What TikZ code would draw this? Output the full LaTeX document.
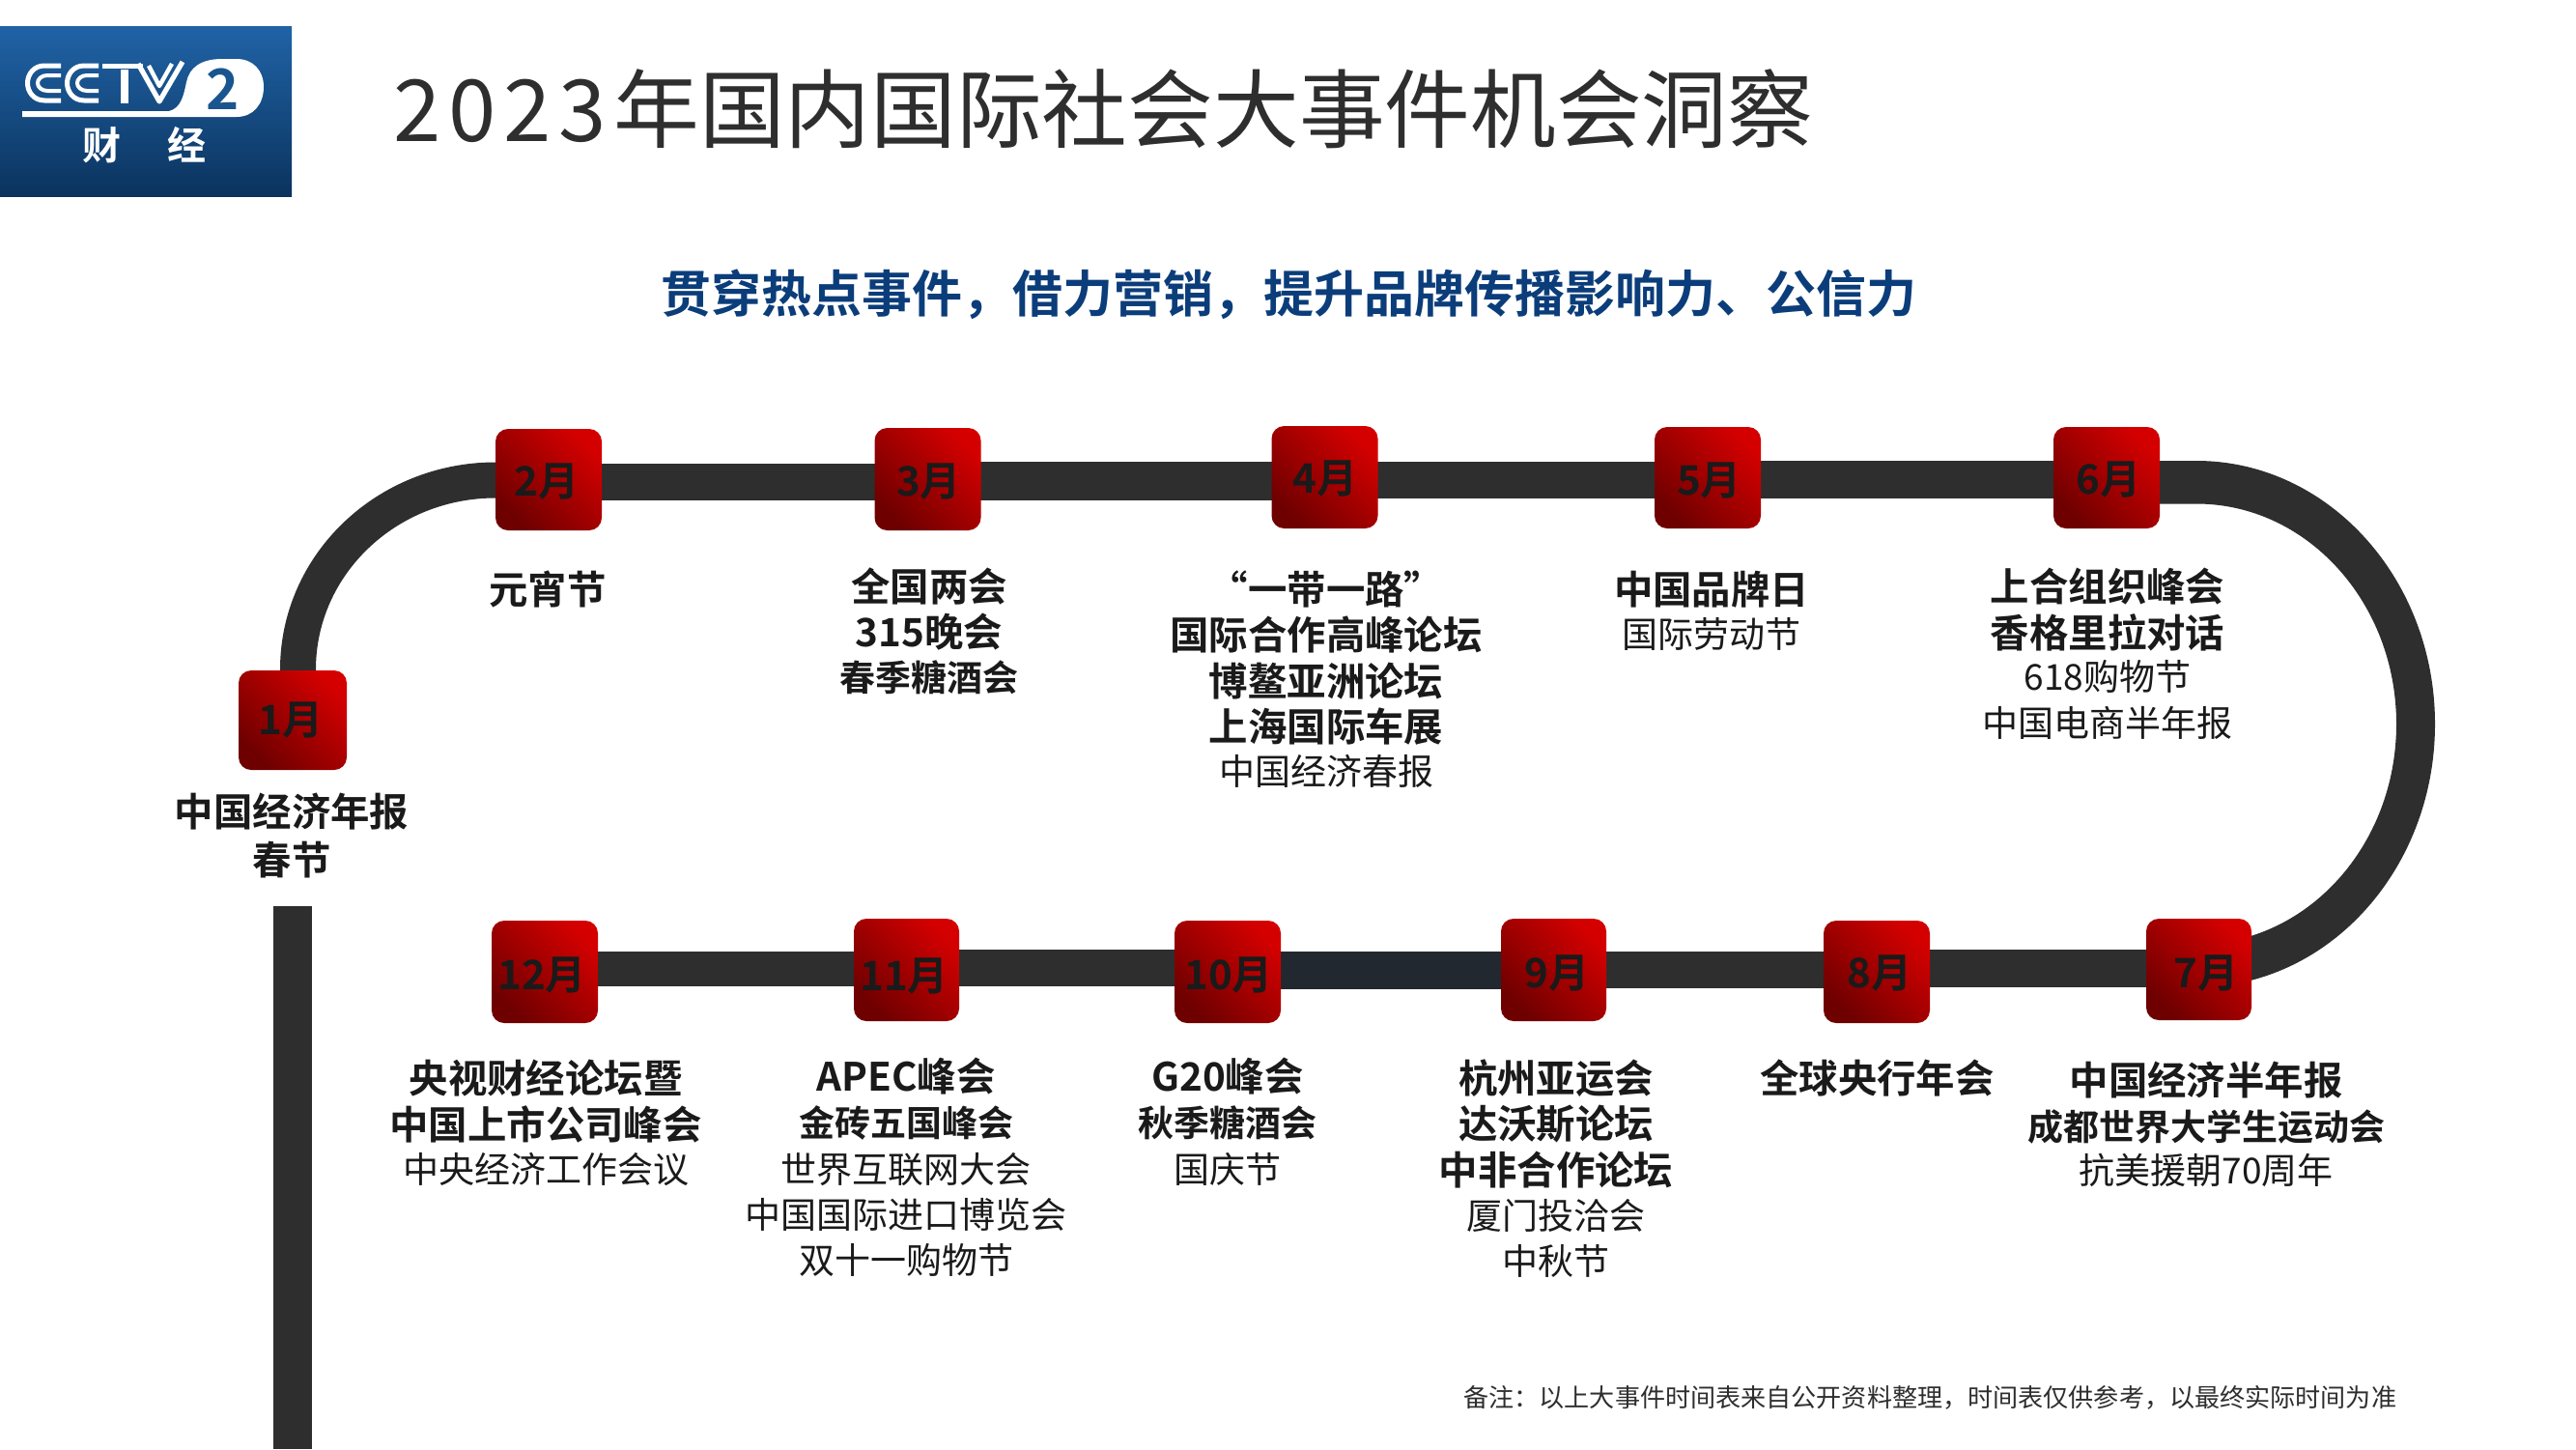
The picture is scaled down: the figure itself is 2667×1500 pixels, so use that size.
\documentclass[tikz,border=0pt]{standalone}
\usepackage{fontspec}
\setmainfont{Noto Sans CJK SC}[BoldFont=* Bold]
\usetikzlibrary{calc}
\pgfdeclarelayer{bg}
\pgfsetlayers{bg,main}
\definecolor{track}{HTML}{2E2E2E}
\definecolor{tracknavy}{HTML}{212830}
\definecolor{ink}{HTML}{1A1A1A}
\definecolor{subblue}{HTML}{0B3D7A}
\definecolor{boxhi}{HTML}{D40000}
\definecolor{boxlo}{HTML}{6E0000}
\definecolor{logotop}{HTML}{2063A6}
\definecolor{logobot}{HTML}{0B335E}
\newcommand{\FL}{\rule{0pt}{20pt}}
\newcommand{\Bg}[1]{{\bfseries\fontsize{20.2}{23.65}\selectfont #1}}
\newcommand{\Bs}[1]{{\bfseries\fontsize{18.5}{23.65}\selectfont #1}}
\newcommand{\Rg}[1]{{\fontsize{18.5}{23.65}\selectfont #1}}
\tikzset{
  x=0.5pt,y=-0.5pt,
  block/.style={anchor=north,align=center,inner sep=0pt,text=ink,font=\fontsize{18.5}{23.65}\selectfont},
  monthbox/.style={inner sep=0pt,rounded corners=6.5pt,draw=none,top color=boxhi,bottom color=boxlo,shading angle=-45},
  monthtxt/.style={inner sep=0pt,anchor=base,text=ink,font=\bfseries\fontsize{21}{24}\selectfont},
  seg/.style={draw=track,line width=19pt},
  logoline/.style={draw=white,line width=2.5pt,line join=round},
}
\newcommand{\mon}[8]{%
  \node[monthbox,minimum width=#4*0.5pt,minimum height=#5*0.5pt] (m#1) at (#2,#3) {};
  \node[monthtxt] (t#1) at (#7,#8+15) {#6};
}
\begin{document}
\begin{tikzpicture}
\useasboundingbox (0,0) rectangle (2667,1500);
\begin{pgfonlayer}{bg}
\fill[white] (0,0) rectangle (2667,1500);
\end{pgfonlayer}

% logo
\shade[top color=logotop,bottom color=logobot] (0,27) rectangle (302,203);
\draw[logoline] (63,68) -- (46,68) .. controls (35,68) and (28.5,77) .. (28.5,86) .. controls (28.5,95) and (35,104) .. (46,104) -- (63,104);
\draw[logoline,line width=2pt] (63,78) -- (49,78) .. controls (43,78) and (39,82) .. (39,86) .. controls (39,90) and (43,94) .. (49,94) -- (63,94);
\draw[logoline] (102,68) -- (87,68) .. controls (76,68) and (69.5,77) .. (69.5,86) .. controls (69.5,95) and (76,104) .. (87,104) -- (102,104);
\draw[logoline,line width=2pt] (102,78) -- (90,78) .. controls (84,78) and (80,82) .. (80,86) .. controls (80,90) and (84,94) .. (90,94) -- (102,94);
\draw[logoline] (106,68) -- (148,68);
\draw[white,line width=4pt] (129,72) -- (129,107);
\draw[logoline,line width=2.6pt] (143,66) -- (165,105) -- (189,64);
\draw[logoline,line width=2.2pt] (154,68) -- (165,89) -- (178,66);
\fill[white] (23,115) -- (175,115) .. controls (187,112) and (190,100) .. (193,85) .. controls (196,70) and (208,61) .. (230,61) -- (245,61) .. controls (262,61) and (273,73) .. (273,90) .. controls (273,108) and (262,121) .. (245,121) -- (23,121) -- cycle;
\node[inner sep=0pt,anchor=base,text=logotop!70!logobot,font=\bfseries\fontsize{29}{30}\selectfont] (two) at (231,113) {2};
\node[inner sep=0pt,anchor=base,text=white,font=\bfseries\fontsize{20}{24}\selectfont] (caijing) at (149,165) {财\kern24pt 经};

% title, subtitle, note
\node[inner sep=0pt,anchor=base west,text=track,font=\fontsize{44.35}{50}\selectfont] (title) at (407,146) {2\kern3.9pt 0\kern3.9pt 2\kern3.9pt 3\kern3.9pt 年国内国际社会大事件机会洞察};
\node[inner sep=0pt,anchor=base west,text=subblue,font=\bfseries\fontsize{26}{30}\selectfont] (subtitle) at (684.5,323) {贯穿热点事件，借力营销，提升品牌传播影响力、公信力};
\node[inner sep=0pt,anchor=base west,text=track,font=\fontsize{13.05}{16}\selectfont] (note) at (1515,1456) {备注：以上大事件时间表来自公开资料整理，时间表仅供参考，以最终实际时间为准};

% month boxes
\mon{1}{303}{745.5}{112}{103}{1月}{301}{745}
\mon{2}{568}{496.5}{110}{105}{2月}{566}{498}
\mon{3}{960.5}{496}{110}{106}{3月}{961.5}{498}
\mon{4}{1371.5}{494}{110}{106}{4月}{1372}{495}
\mon{5}{1768}{494.5}{110}{105}{5月}{1769.5}{497.5}
\mon{6}{2181}{494.5}{110}{105}{6月}{2183}{496}
\mon{7}{2276.5}{1003.5}{109}{105}{7月}{2284}{1007}
\mon{8}{1943}{1006}{110}{106}{8月}{1946}{1007.5}
\mon{9}{1608.5}{1004}{109}{106}{9月}{1612}{1007.5}
\mon{10}{1271}{1006}{110}{106}{10月}{1272}{1009}
\mon{11}{938.5}{1004}{109}{106}{11月}{936}{1010}
\mon{12}{564}{1006}{110}{106}{12月}{561}{1009}

% track
\begin{pgfonlayer}{bg}
\coordinate (leg) at (308.5,745);
\draw[seg,line width=18.5pt] (leg) -- (308.5,693) .. controls (308.5,584.7) and (400,497) .. (513,497) -- (m2 |- 0,497);
\draw[seg] (m2 |- 0,499) -- (m3 |- 0,499);
\draw[seg,line width=20pt] (m3 |- 0,498) -- (m4 |- 0,498);
\draw[seg] (m4 |- 0,497) -- (m5 |- 0,497);
\draw[seg,line width=19.5pt] (m5 |- 0,496.5) -- (m6 |- 0,496.5);
\fill[track] (m6 |- 0,477) -- (2274,477) .. controls (2410.4,477) and (2521,599) .. (2521,749.5) .. controls (2521,900) and (2410.4,1022) .. (2274,1022) -- (2274,977.5) .. controls (2388.3,977.5) and (2481,875.4) .. (2481,749.5) .. controls (2481,623.6) and (2388.3,521.5) .. (2274,521.5) -- (m6 |- 0,521.5) -- cycle;
\draw[seg,line width=19.5pt] (m8 |- 0,1002.5) -- (m7 |- 0,1002.5);
\draw[seg] (m9 |- 0,1004) -- (m8 |- 0,1004);
\draw[seg,draw=tracknavy,line width=19.5pt] (m10 |- 0,1004.5) -- (m9 |- 0,1004.5);
\draw[seg] (m11 |- 0,1002) -- (m10 |- 0,1002);
\draw[seg,line width=18pt] (m12 |- 0,1003) -- (m11 |- 0,1003);
\fill[track] (283,938) rectangle (323,1500);
\end{pgfonlayer}

% event labels
\node[block] (e1) at (302,815) {\FL\Bg{中国经济年报}\\[1.35pt]\Bg{春节}};
\node[block] (e2) at (567,585) {\FL\Bg{元宵节}};
\node[block] (e3) at (962,582) {\FL\Bg{全国两会}\\\Bg{315晚会}\\[-0.7pt]\Bs{春季糖酒会}};
\node[block] (e4) at (1373,585) {\FL\Bg{“一带一路”}\\\Bg{国际合作高峰论坛}\\\Bg{博鳌亚洲论坛}\\\Bg{上海国际车展}\\[-1.2pt]\Rg{中国经济春报}};
\node[block] (e5) at (1772,585) {\FL\Bg{中国品牌日}\\[-1.2pt]\Rg{国际劳动节}};
\node[block] (e6) at (2182,582) {\FL\Bg{上合组织峰会}\\[0.5pt]\Bg{香格里拉对话}\\[-1.6pt]\Rg{618购物节}\\\Rg{中国电商半年报}};
\node[block] (e7) at (2284,1093) {\FL\Bg{中国经济半年报}\\\Bs{成都世界大学生运动会}\\[-1.4pt]\Rg{抗美援朝70周年}};
\node[block] (e8) at (1943.5,1091) {\FL\Bg{全球央行年会}};
\node[block] (e9) at (1611,1091) {\FL\Bg{杭州亚运会}\\\Bg{达沃斯论坛}\\\Bg{中非合作论坛}\\[-0.6pt]\Rg{厦门投洽会}\\\Rg{中秋节}};
\node[block] (e10) at (1271,1089) {\FL\Bg{G20峰会}\\\Bs{秋季糖酒会}\\\Rg{国庆节}};
\node[block] (e11) at (938,1089) {\FL\Bg{APEC峰会}\\\Bs{金砖五国峰会}\\\Rg{世界互联网大会}\\\Rg{中国国际进口博览会}\\\Rg{双十一购物节}};
\node[block] (e12) at (565,1091) {\FL\Bg{央视财经论坛暨}\\[0.4pt]\Bg{中国上市公司峰会}\\[-1.3pt]\Rg{中央经济工作会议}};
\end{tikzpicture}
\end{document}
